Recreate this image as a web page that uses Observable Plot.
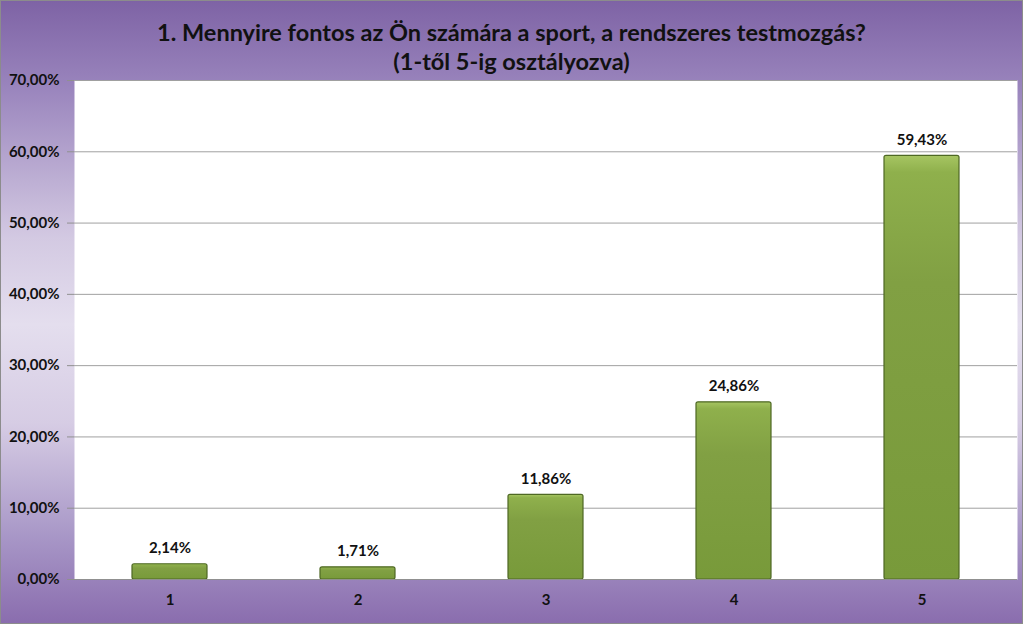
<!DOCTYPE html>
<html><head><meta charset="utf-8">
<script src="https://cdn.jsdelivr.net/npm/d3@7"></script>
<script src="https://cdn.jsdelivr.net/npm/@observablehq/plot@0.6"></script>
<style>
html,body{margin:0;padding:0;}
#wrap{width:1021px;height:622px;border:1px solid #8c8c8c;
 background:linear-gradient(to bottom,#7e63a5 0%,#9a85bd 14%,#d3c9e2 38%,#e4deee 52%,#d6cce4 68%,#a897c7 86%,#8a6dae 100%);
 font-family:Lato,"Open Sans",sans-serif;position:relative;overflow:hidden;}
#title{height:69px;text-align:center;font-weight:bold;font-size:23.5px;line-height:29px;color:#111;box-sizing:border-box;padding-top:17px;}
svg{overflow:visible;}
</style></head>
<body><div id="wrap"><div id="title">1. Mennyire fontos az Ön számára a sport, a rendszeres testmozgás?<br>(1-től 5-ig osztályozva)</div><div id="chart"></div></div>
<script>
const categories = ["1","2","3","4","5"];
const values = [2.14, 1.71, 11.86, 24.86, 59.43];
const yTicks = [0,10,20,30,40,50,60,70];
const data = categories.map((c,i)=>({cat:c, v:values[i]}));
const fmt = v => v.toFixed(2).replace(".", ",") + "%";

const plot = Plot.plot({
  width: 1021, height: 554,
  marginTop: 10, marginBottom: 45, marginLeft: 73, marginRight: 5,
  style: {background: "transparent", fontFamily: "Lato, 'Open Sans', sans-serif", fontSize: "15px", fontWeight: "bold", color: "#111"},
  x: {domain: categories, paddingInner: 0.6, paddingOuter: 0.3, label: null, tickSize: 0, tickPadding: 15},
  y: {domain: [0,70], ticks: yTicks, tickFormat: fmt, label: null, tickSize: 7, tickPadding: 8},
  marks: [
    Plot.frame({fill: "white", stroke: null}),
    Plot.gridY(yTicks, {stroke: "#a0a0a0", strokeOpacity: 1}),
    Plot.barY(data, {x: "cat", y: "v", fill: "url(#barGrad)", stroke: "#4e6823", strokeWidth: 1.2, rx: 2}),
    Plot.text(data, {x: "cat", y: "v", text: d => fmt(d.v), dy: -16, fontSize: 15, fontWeight: "bold", fill: "#111"}),
    Plot.ruleY([0], {stroke: "#909090"}),
    () => {
      const ns = "http://www.w3.org/2000/svg";
      const defs = document.createElementNS(ns, "defs");
      defs.innerHTML = `<linearGradient id="barGrad" x1="0" y1="0" x2="0" y2="1">
        <stop offset="0" stop-color="#a6c562"/><stop offset="0.04" stop-color="#8fb04c"/>
        <stop offset="0.3" stop-color="#81a043"/><stop offset="1" stop-color="#789a3a"/></linearGradient>`;
      return defs;
    }
  ]
});
plot.querySelectorAll("[aria-label='y-axis tick']").forEach(e=>e.setAttribute("stroke","#909090"));
document.getElementById("chart").appendChild(plot);
</script>
</body></html>
